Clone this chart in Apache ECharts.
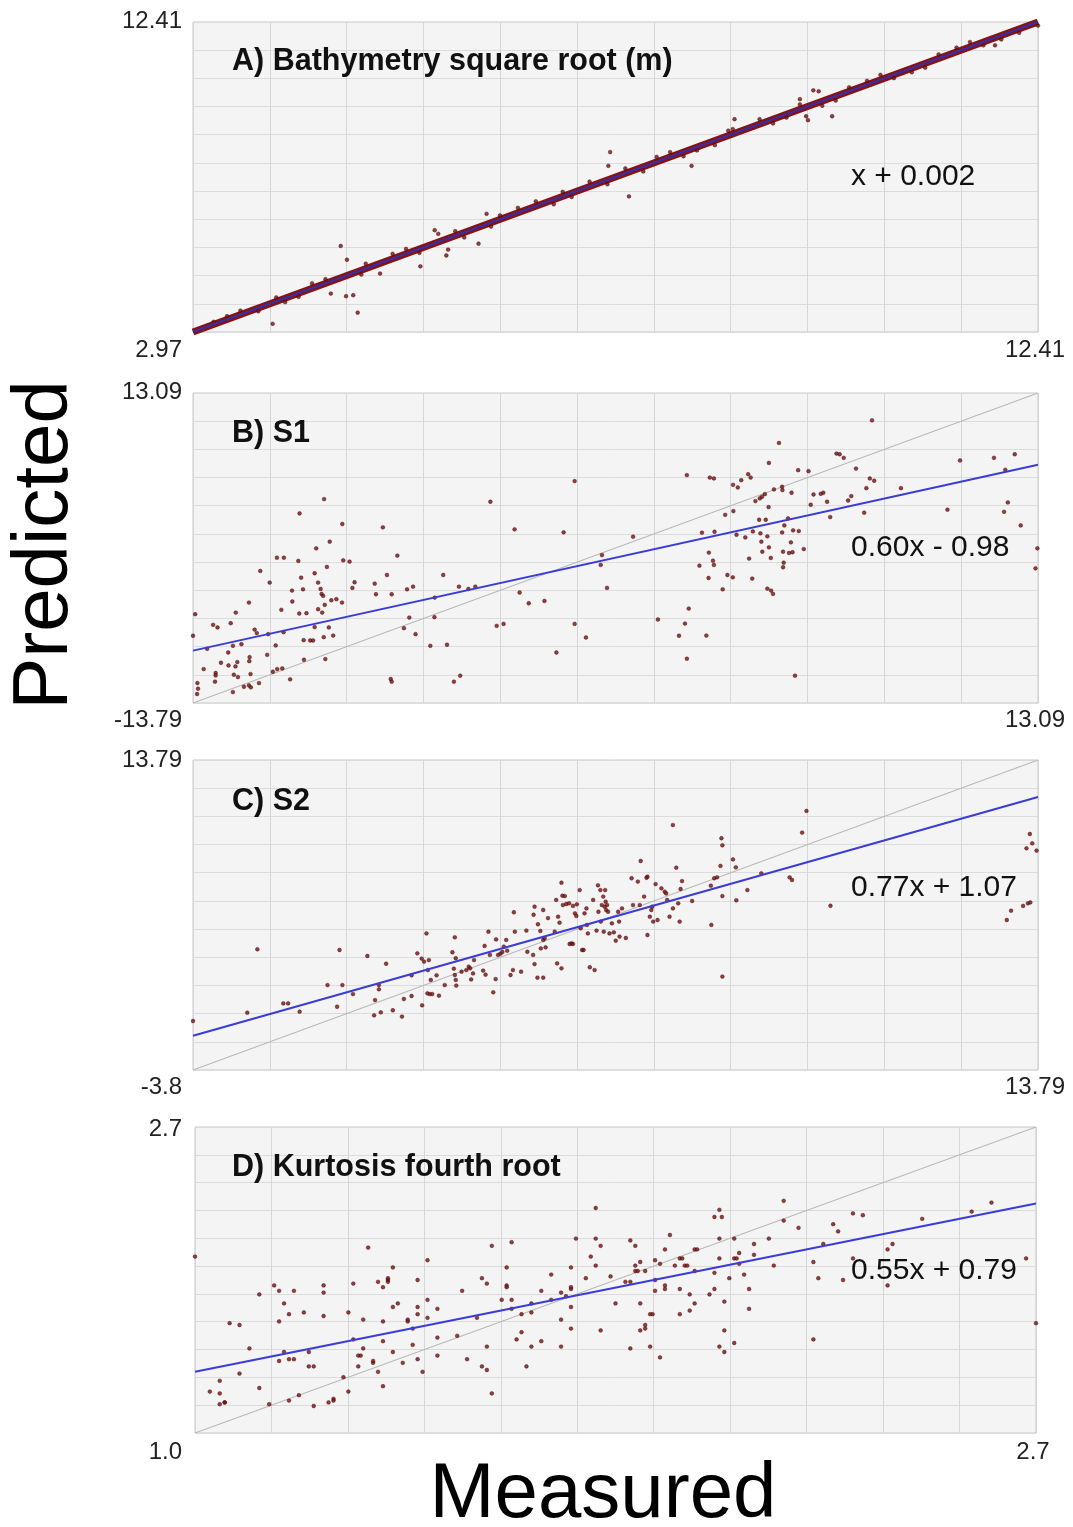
<!DOCTYPE html>
<html>
<head>
<meta charset="utf-8">
<script src="https://cdn.jsdelivr.net/npm/echarts@6/dist/echarts.min.js"></script>
<style>
html,body{margin:0;padding:0;background:#ffffff;}
#chart{width:1073px;height:1527px;}
</style>
</head>
<body>
<div id="chart"></div>
<script>
// ---------------- DATA ----------------
const panelTitles = ['A) Bathymetry square root (m)', 'B) S1', 'C) S2', 'D) Kurtosis fourth root'];
const equations = ['x + 0.002', '0.60x - 0.98', '0.77x + 1.07', '0.55x + 0.79'];
const axisMin = [2.97, -13.79, -3.8, 1.0];
const axisMax = [12.41, 13.09, 13.79, 2.7];
const minLabels = ['2.97', '-13.79', '-3.8', '1.0'];
const maxLabels = ['12.41', '13.09', '13.79', '2.7'];
const yLabel = 'Predicted';
const xLabel = 'Measured';

// dense cloud of panel A (thousands of points hugging the 1:1 line)
const bandA = [[2.97, 2.97], [12.41, 12.41]];
const pointsA = [[4.62,5.59],[4.69,5.17],[4.68,4.06],[4.76,4.09],[4.81,3.56],[3.86,3.22],[4.51,4.14],[5.51,4.97],[5.80,5.30],[5.82,5.48],[6.16,5.66],[6.25,6.57],[5.67,6.07],[5.71,5.96],[5.06,4.75],[7.63,8.45],[7.61,8.03],[7.84,7.10],[8.54,8.03],[9.02,9.45],[9.75,10.06],[9.82,9.54],[9.84,9.42],[9.90,10.33],[9.96,10.30],[10.11,9.54],[11.93,11.70],[12.41,12.30],
[3.5,3.62],[4.0,3.88],[4.3,4.45],[5.2,5.35],[6.0,5.85],[6.6,6.75],[7.0,6.86],[7.4,7.55],[8.0,7.86],[8.3,8.45],[8.8,8.66],[9.3,9.45],[10.0,9.86],[10.5,10.62],[11.0,10.88],[11.5,11.63],[12.0,11.88],[3.2,3.28],[3.7,3.6],[4.9,5.05],[5.5,5.38],[6.4,6.52],[7.2,7.08],[7.8,7.95],[8.6,8.5],[9.0,9.15],[9.6,9.5],[10.3,10.42],[10.8,10.7],[11.3,11.42],[11.8,11.7],
[3.35,3.45],[3.9,4.02],[4.15,4.04],[4.45,4.58],[4.85,4.72],[5.35,5.5],[5.9,6.04],[6.3,6.18],[6.8,6.95],[7.1,7.24],[7.6,7.47],[8.15,8.3],[8.45,8.32],[8.95,9.1],[9.45,9.32],[9.75,9.9],[10.15,10.02],[10.65,10.8],[11.15,11.02],[11.65,11.8],[12.2,12.08],[12.3,12.42]];

const pointsB = [[-1.65,5.45],[-9.62,3.89],[-4.33,3.66],[-10.40,2.65],[-9.04,1.73],[-7.75,1.44],[-3.56,1.27],[-2.00,1.01],[-9.44,0.20],[-9.87,-0.38],[-7.29,-1.01],[-11.12,-1.19],[-10.90,-1.19],[-10.44,-1.47],[-9.01,-1.42],[-8.81,-1.53],[-9.53,-1.99],[-11.65,-2.34],[-9.92,-2.54],[-10.35,-2.92],[-7.62,-2.69],[-5.83,-2.69],[-11.35,-3.35],[-9.81,-3.35],[-8.65,-3.32],[-8.01,-3.44],[-10.29,-3.93],[-10.64,-4.04],[-9.73,-3.90],[-8.72,-3.81],[-5.33,-3.70],[-5.03,-3.90],[-4.81,-3.70],[-6.79,-3.70],[-6.98,-3.93],[-9.70,-4.33],[-9.65,-4.50],[-7.97,-4.36],[-7.47,-4.36],[-12.01,-5.08],[-10.63,-4.99],[-9.23,-4.79],[-9.39,-4.88],[-9.05,-5.08],[-9.60,-5.28],[-3.40,-4.21],[-3.11,-5.14],[-2.61,-4.94],[-6.10,-4.65],[-13.72,-6.09],[-12.43,-5.95],[-10.41,-6.03],[-10.18,-6.00],[-10.98,-5.71],[-9.68,-5.95],[-9.81,-5.66],[-6.91,-6.38],[-6.11,-6.35],[-13.15,-7.01],[-13.01,-7.24],[-12.59,-6.87],[-4.13,-7.10],[-3.91,-6.93],[-1.65,-6.93],[-11.83,-7.42],[-11.76,-7.73],[-10.91,-7.65],[-11.40,-7.82],[-9.92,-7.21],[-9.47,-7.24],[-9.33,-7.94],[-9.63,-8.08],[-7.08,-7.30],[-6.71,-7.82],[-1.29,-8.11],[-13.79,-7.96],[-10.27,-8.34],[-10.06,-8.37],[-9.97,-8.37],[-12.25,-8.69],[-12.52,-8.83],[-13.34,-9.09],[-11.16,-8.80],[-6.24,-8.83],[-5.71,-8.74],[-2.23,-9.41],[-12.67,-9.41],[-11.43,-9.61],[-11.99,-9.81],[-12.00,-10.16],[-12.90,-10.30],[-12.66,-10.53],[-12.44,-10.62],[-12.38,-10.24],[-13.45,-10.85],[-13.07,-11.19],[-13.07,-11.40],[-12.49,-11.34],[-12.36,-11.54],[-11.96,-11.28],[-11.25,-11.08],[-11.11,-10.85],[-10.95,-10.79],[-10.26,-10.04],[-9.58,-9.98],[-13.09,-11.94],[-11.69,-12.06],[-12.17,-12.38],[-12.01,-12.26],[-11.95,-12.43],[-12.52,-12.84],[-10.70,-11.74],[-7.50,-11.71],[-7.47,-11.94],[-5.49,-11.94],[-5.29,-11.42],[-13.65,-12.06],[-13.63,-12.55],[-13.66,-13.01],
[7.81,10.72],[4.85,8.76],[4.53,7.03],[1.92,5.97],[2.65,5.76],[2.78,5.68],[3.87,6.05],[3.95,5.76],[3.65,5.53],[3.39,5.13],[3.54,4.90],[6.68,7.84],[6.78,7.78],[6.91,7.47],[7.30,6.54],[5.46,6.40],[5.79,6.31],[10.61,7.24],[11.69,7.47],[12.35,7.78],[12.05,6.43],[4.69,4.73],[4.95,4.96],[4.96,4.67],[5.25,4.44],[4.40,4.32],[4.31,4.09],[4.24,3.95],[4.10,3.72],[4.52,3.20],[5.95,4.29],[6.18,4.35],[6.26,4.44],[6.38,3.66],[5.86,3.40],[7.05,3.77],[7.15,4.15],[7.74,5.68],[7.88,5.48],[7.63,4.84],[7.56,2.71],[8.73,4.84],[10.21,2.97],[12.13,3.60],[12.01,2.79],[12.54,1.61],[13.07,-0.38],[13.01,-2.11],[3.14,2.53],[3.40,2.85],[4.22,2.10],[4.43,2.10],[5.14,2.22],[5.02,1.61],[6.48,2.33],[0.21,0.63],[2.40,0.98],[2.80,1.06],[3.50,0.80],[3.78,0.57],[4.02,1.09],[4.26,0.92],[4.29,0.20],[4.48,0.66],[4.53,-0.29],[4.95,1.00],[5.30,1.18],[5.48,1.12],[5.23,0.14],[4.98,-0.67],[5.17,-0.78],[5.28,-0.72],[4.32,-0.67],[5.64,-0.44],[2.62,-0.75],[2.75,-1.45],[2.78,-1.82],[2.32,-1.88],[3.90,-1.27],[4.59,-1.21],[5.00,-1.62],[4.98,-2.02],[-0.78,-0.96],[-0.82,-1.82],[-0.62,-3.81],[2.61,-2.95],[3.21,-2.69],[3.38,-2.89],[4.00,-3.00],[3.06,-3.93],[4.48,-3.87],[4.60,-4.04],[4.66,-4.33],[1.98,-5.60],[1.00,-6.55],[1.86,-6.90],[1.67,-7.96],[2.54,-7.94],[1.92,-9.95],[5.36,-11.42]];

const pointsC = [[-3.80,-1.02],[-2.46,3.05],[-2.67,-0.55],[-1.92,-0.02],[-1.82,-0.02],[-1.58,-0.49],[-1.00,1.02],[-0.80,-0.21],[-0.75,3.01],[-0.69,1.02],[-0.47,0.51],[-0.17,2.67],[-0.01,0.17],[-0.03,-0.70],[0.11,-0.53],[0.07,0.78],[0.07,1.02],[0.22,2.23],[0.36,-0.41],[0.55,-0.77],[0.59,0.23],[0.75,0.40],[0.75,1.57],[0.87,2.82],[0.96,2.52],[1.01,2.35],[1.11,2.44],[1.06,3.95],[0.97,-0.13],[1.08,0.55],[1.13,0.51],[1.18,0.51],[1.32,0.42],[1.09,1.87],[1.15,1.31],[1.27,1.57],[1.44,1.02],[1.60,2.88],[1.65,3.73],[1.67,2.54],[1.63,1.95],[1.65,1.59],[1.67,1.31],[1.68,0.99],[1.79,1.78],[1.89,1.87],[1.94,2.06],[1.97,1.97],[1.99,1.34],[2.03,1.68],[2.05,2.44],[2.24,1.84],[2.29,1.61],[2.27,3.24],[2.35,4.05],[2.38,2.73],[2.45,0.61],[2.50,1.36],[2.51,3.61],[2.55,2.73],[2.60,2.80],[2.64,2.90],[2.67,3.20],[2.72,3.58],[2.74,2.97],[2.81,1.59],[2.86,1.87],[2.88,5.15],[2.90,4.05],[3.03,1.78],[3.14,4.11],[3.16,2.91],[3.28,2.73],[3.31,2.21],[3.37,1.44],[3.49,1.44],[3.29,5.01],[3.31,5.47],[3.38,4.47],[3.43,4.09],[3.44,3.10],[3.49,5.28],[3.49,3.58],[3.52,3.67],[3.54,3.16],[3.59,4.82],[3.73,4.05],[3.76,5.85],[3.78,2.25],[3.80,4.90],[3.87,6.83],[3.83,4.56],[3.87,1.97],[3.89,6.09],[3.90,5.56],[3.94,6.07],[3.97,5.62],[4.03,5.66],[4.04,3.35],[4.08,3.39],[4.11,3.35],[4.15,5.09],[4.11,5.51],[4.19,5.60],[4.18,4.94],[4.25,6.41],[4.27,4.24],[4.30,3.01],[4.33,3.01],[4.35,5.09],[4.39,5.37],[4.40,4.43],[4.42,3.95],[4.46,2.03],[4.53,5.85],[4.56,1.87],[4.60,4.11],[4.63,6.68],[4.64,5.18],
[4.68,6.41],[4.69,4.62],[4.71,5.56],[4.74,6.04],[4.75,4.05],[4.78,6.41],[4.77,5.47],[4.79,5.75],[4.80,5.28],[4.82,5.56],[4.84,5.18],[4.87,3.95],[4.92,4.52],[4.96,4.01],[5.00,3.54],[5.05,5.18],[5.07,4.62],[5.08,3.77],[5.13,5.37],[5.21,3.69],[5.33,7.08],[5.36,5.56],[5.46,6.89],[5.50,5.56],[5.52,8.06],[5.59,6.04],[5.64,7.11],[5.66,7.17],[5.66,3.86],[5.71,4.90],[5.74,5.28],[5.76,5.47],[5.78,4.62],[5.83,6.75],[5.87,4.71],[5.95,6.51],[6.02,6.32],[6.05,6.22],[6.07,5.85],[6.12,4.90],[6.19,10.10],[6.19,5.37],[6.26,7.68],[6.30,5.66],[6.33,4.62],[6.35,6.47],[6.38,6.92],[6.59,5.79],[6.98,6.66],[6.99,4.43],[7.05,7.08],[7.11,7.13],[7.18,7.78],[7.20,9.35],[7.22,8.95],[7.22,6.07],[7.22,1.50],[7.44,8.15],[7.50,7.70],[7.51,5.83],[7.74,6.41],[8.03,7.36],[8.62,7.13],[8.67,6.98],[8.88,9.67],[8.97,10.90],[9.47,5.52],[13.62,9.59],[13.67,9.06],[13.55,8.78],[13.76,8.65],[13.14,4.71],[13.23,5.24],[13.48,5.51],[13.58,5.66],[13.63,5.71]];

const pointsD = [[1.00,1.98],[1.35,2.03],[1.47,1.96],[1.60,2.04],[1.64,2.06],[1.77,2.08],[1.81,2.25],[1.81,2.08],[1.80,1.98],[1.81,1.93],[1.79,1.86],[1.76,1.92],[1.72,1.88],[1.70,1.79],[1.72,1.74],[1.74,1.78],[1.75,1.76],[1.76,1.80],[1.76,1.81],[1.76,1.70],[1.76,1.58],[1.74,1.63],[1.74,1.48],[1.70,1.51],[1.68,1.48],[1.67,1.37],[1.65,1.52],[1.66,1.56],[1.66,1.66],[1.68,1.67],[1.68,1.72],[1.64,1.69],[1.64,1.74],[1.62,1.74],[1.63,1.82],[1.63,1.81],[1.63,1.92],[1.59,1.83],[1.58,1.86],[1.54,1.79],[1.57,1.64],[1.59,1.48],[1.60,1.22],[1.58,1.37],[1.59,1.35],[1.55,1.41],[1.53,1.54],[1.49,1.53],[1.49,1.43],[1.49,1.69],[1.47,1.74],[1.47,1.64],[1.45,1.70],[1.45,1.66],[1.45,1.85],[1.43,1.63],[1.43,1.62],[1.41,1.72],[1.40,1.70],[1.40,1.92],[1.39,1.85],[1.39,1.84],[1.39,1.86],[1.37,1.84],[1.38,1.81],[1.38,1.51],[1.38,1.62],[1.40,1.45],[1.37,1.34],[1.38,1.26],[1.44,1.58],[1.44,1.49],[1.42,1.39],[1.45,1.41],[1.46,1.34],[1.36,1.39],[1.36,1.40],[1.34,1.63],[1.34,1.47],[1.33,1.43],[1.335,1.43],[1.33,1.37],[1.32,1.52],[1.32,1.83],[1.31,1.23],[1.31,1.67],[1.30,1.31],[1.28,1.19],[1.28,1.18],[1.27,1.17],[1.26,1.78],[1.26,1.82],[1.26,1.65],[1.24,1.15],[1.23,1.45],[1.23,1.37],[1.24,1.37],[1.21,1.21],[1.22,1.67],[1.19,1.66],[1.18,1.72],[1.17,1.79],[1.20,1.79],[1.17,1.62],[1.16,1.82],[1.15,1.16],[1.19,1.18],[1.18,1.45],[1.19,1.41],[1.20,1.41],[1.17,1.40],[1.13,1.77],[1.11,1.47],[1.07,1.61],[1.09,1.60],[1.09,1.33],[1.13,1.25],[1.05,1.29],[1.03,1.23],[1.05,1.22],[1.06,1.17],[1.05,1.16],[1.06,1.17],
[1.82,2.04],[1.82,1.57],[1.84,1.87],[1.85,1.72],[1.87,1.84],[1.88,2.07],[1.88,1.47],[1.88,1.84],[1.89,2.04],[1.89,1.93],[1.89,1.90],[1.895,1.90],[1.90,1.95],[1.90,1.72],[1.90,1.57],[1.91,1.60],[1.91,1.90],[1.91,1.58],[1.92,1.66],[1.925,1.66],[1.92,1.48],[1.93,1.96],[1.93,1.85],[1.93,1.79],[1.94,1.42],[1.94,1.94],[1.95,2.02],[1.95,1.82],[1.95,1.80],[1.96,2.10],[1.97,1.93],[1.98,1.97],[1.985,1.97],[1.98,1.80],[1.98,1.66],[1.99,1.93],[1.995,1.93],[2.00,1.77],[2.00,1.68],[2.01,1.72],[2.01,2.02],[2.015,2.02],[2.01,1.90],[2.04,1.77],[2.05,2.20],[2.05,1.89],[2.05,1.80],[2.06,2.08],[2.06,2.24],[2.06,1.97],[2.065,2.20],[2.07,1.57],[2.07,1.45],[2.07,1.73],[2.06,1.48],[2.08,1.86],[2.09,1.97],[2.09,2.08],[2.09,1.50],[2.095,1.97],[2.10,2.00],[2.10,1.94],[2.11,1.88],[2.12,1.80],[2.12,1.69],[2.13,1.99],[2.13,2.05],[2.16,2.08],[2.17,1.93],[2.19,2.29],[2.19,2.18],[2.22,2.14],[2.25,1.52],[2.25,1.95],[2.26,1.86],[2.27,2.05],[2.29,2.16],[2.30,2.12],[2.31,1.85],[2.33,1.97],[2.33,2.22],[2.35,2.21],[2.40,2.02],[2.40,1.82],[2.41,2.05],[2.47,2.19],[2.57,2.23],[2.61,2.28],[2.68,1.97],[2.70,1.61]];

const fitA = [[2.97, 2.972], [12.41, 12.412]];
const fitB = [[-13.79, -9.25], [13.09, 6.87]];
const fitC = [[-3.8, -1.856], [13.79, 11.688]];
const fitD = [[1.0, 1.34], [2.7, 2.275]];

const pointSets = [pointsA, pointsB, pointsC, pointsD];
const fitSets = [fitA, fitB, fitC, fitD];

// ---------------- LAYOUT ----------------
const FONT = "'Liberation Sans', Arial, Helvetica, sans-serif";
const gridBoxes = [
  {left: 193, top: 22, width: 845, height: 310},
  {left: 193, top: 393, width: 845, height: 310},
  {left: 193, top: 760, width: 845, height: 310},
  {left: 195, top: 1127, width: 841, height: 306}
];
const titleY = [62, 434, 802, 1168];
const eqY = [177, 548, 888, 1271];
const topLabelY = [21, 392, 760, 1129];
const bottomLabelY = [350, 720, 1087, 1452];
const NDIV = 11;

const grids = [], xAxes = [], yAxes = [], series = [], graphics = [];

gridBoxes.forEach((g) => {
  grids.push({left: g.left, top: g.top, width: g.width, height: g.height,
    show: true, backgroundColor: '#f4f4f4', borderColor: '#c8c8c8', borderWidth: 1});
});
// data axes
for (let i = 0; i < 4; i++) {
  xAxes.push({type: 'value', gridIndex: i, min: axisMin[i], max: axisMax[i], position: 'bottom',
    axisLine: {show: false}, axisTick: {show: false}, axisLabel: {show: false}, splitLine: {show: false}});
  yAxes.push({type: 'value', gridIndex: i, min: axisMin[i], max: axisMax[i], position: 'left',
    axisLine: {show: false}, axisTick: {show: false}, axisLabel: {show: false}, splitLine: {show: false}});
}
// grid-division axes (11 equal divisions of each panel)
for (let i = 0; i < 4; i++) {
  xAxes.push({type: 'value', gridIndex: i, min: 0, max: NDIV, interval: 1, position: 'top',
    axisLine: {show: false}, axisTick: {show: false}, axisLabel: {show: false},
    splitLine: {show: true, lineStyle: {color: '#d6d6d6', width: 1}}});
  yAxes.push({type: 'value', gridIndex: i, min: 0, max: NDIV, interval: 1, position: 'right',
    axisLine: {show: false}, axisTick: {show: false}, axisLabel: {show: false},
    splitLine: {show: true, lineStyle: {color: '#dcdcdc', width: 1}}});
}

for (let i = 0; i < 4; i++) {
  // 1:1 line
  series.push({type: 'line', xAxisIndex: i, yAxisIndex: i, data: [[axisMin[i], axisMin[i]], [axisMax[i], axisMax[i]]],
    symbol: 'none', silent: true, z: 2, lineStyle: {color: '#b9b9b9', width: 1.2}});
  if (i === 0) {
    series.push({type: 'line', xAxisIndex: 0, yAxisIndex: 0, data: bandA, symbol: 'none', silent: true, z: 3,
      lineStyle: {color: '#861212', width: 7}});
  }
  series.push({type: 'scatter', xAxisIndex: i, yAxisIndex: i, data: pointSets[i], symbol: 'circle',
    symbolSize: 3.8, z: 4, itemStyle: {color: '#7a1010', borderColor: '#3a0505', borderWidth: 0.5}});
  series.push({type: 'line', xAxisIndex: i, yAxisIndex: i, data: fitSets[i], symbol: 'none', silent: true, z: 5,
    lineStyle: {color: i === 0 ? '#3d2c9c' : '#3b3bd6', width: i === 0 ? 2.5 : 2}});
}

for (let i = 0; i < 4; i++) {
  const g = gridBoxes[i];
  graphics.push({type: 'text', x: 232, y: titleY[i], style: {text: panelTitles[i], font: 'bold 30.5px ' + FONT,
    fill: '#111', textAlign: 'left', textVerticalAlign: 'middle'}, z: 100});
  graphics.push({type: 'text', x: 851, y: eqY[i], style: {text: equations[i], font: '30px ' + FONT,
    fill: '#111', textAlign: 'left', textVerticalAlign: 'middle'}, z: 100});
  graphics.push({type: 'text', x: 182, y: topLabelY[i], style: {text: maxLabels[i], font: '24px ' + FONT,
    fill: '#222', textAlign: 'right', textVerticalAlign: 'middle'}, z: 100});
  graphics.push({type: 'text', x: 182, y: bottomLabelY[i], style: {text: minLabels[i], font: '24px ' + FONT,
    fill: '#222', textAlign: 'right', textVerticalAlign: 'middle'}, z: 100});
  graphics.push({type: 'text', x: g.left + g.width - 3, y: bottomLabelY[i], style: {text: maxLabels[i], font: '24px ' + FONT,
    fill: '#222', textAlign: 'center', textVerticalAlign: 'middle'}, z: 100});
}
graphics.push({type: 'text', x: 45, y: 545, rotation: Math.PI / 2, style: {text: yLabel, font: '78px ' + FONT,
  fill: '#000', textAlign: 'center', textVerticalAlign: 'middle'}, z: 100});
graphics.push({type: 'text', x: 603, y: 1495, style: {text: xLabel, font: '78px ' + FONT,
  fill: '#000', textAlign: 'center', textVerticalAlign: 'middle'}, z: 100});

const chart = echarts.init(document.getElementById('chart'), null, {renderer: 'canvas'});
chart.setOption({
  animation: false,
  backgroundColor: '#ffffff',
  grid: grids,
  xAxis: xAxes,
  yAxis: yAxes,
  series: series,
  graphic: graphics
});
</script>
</body>
</html>
